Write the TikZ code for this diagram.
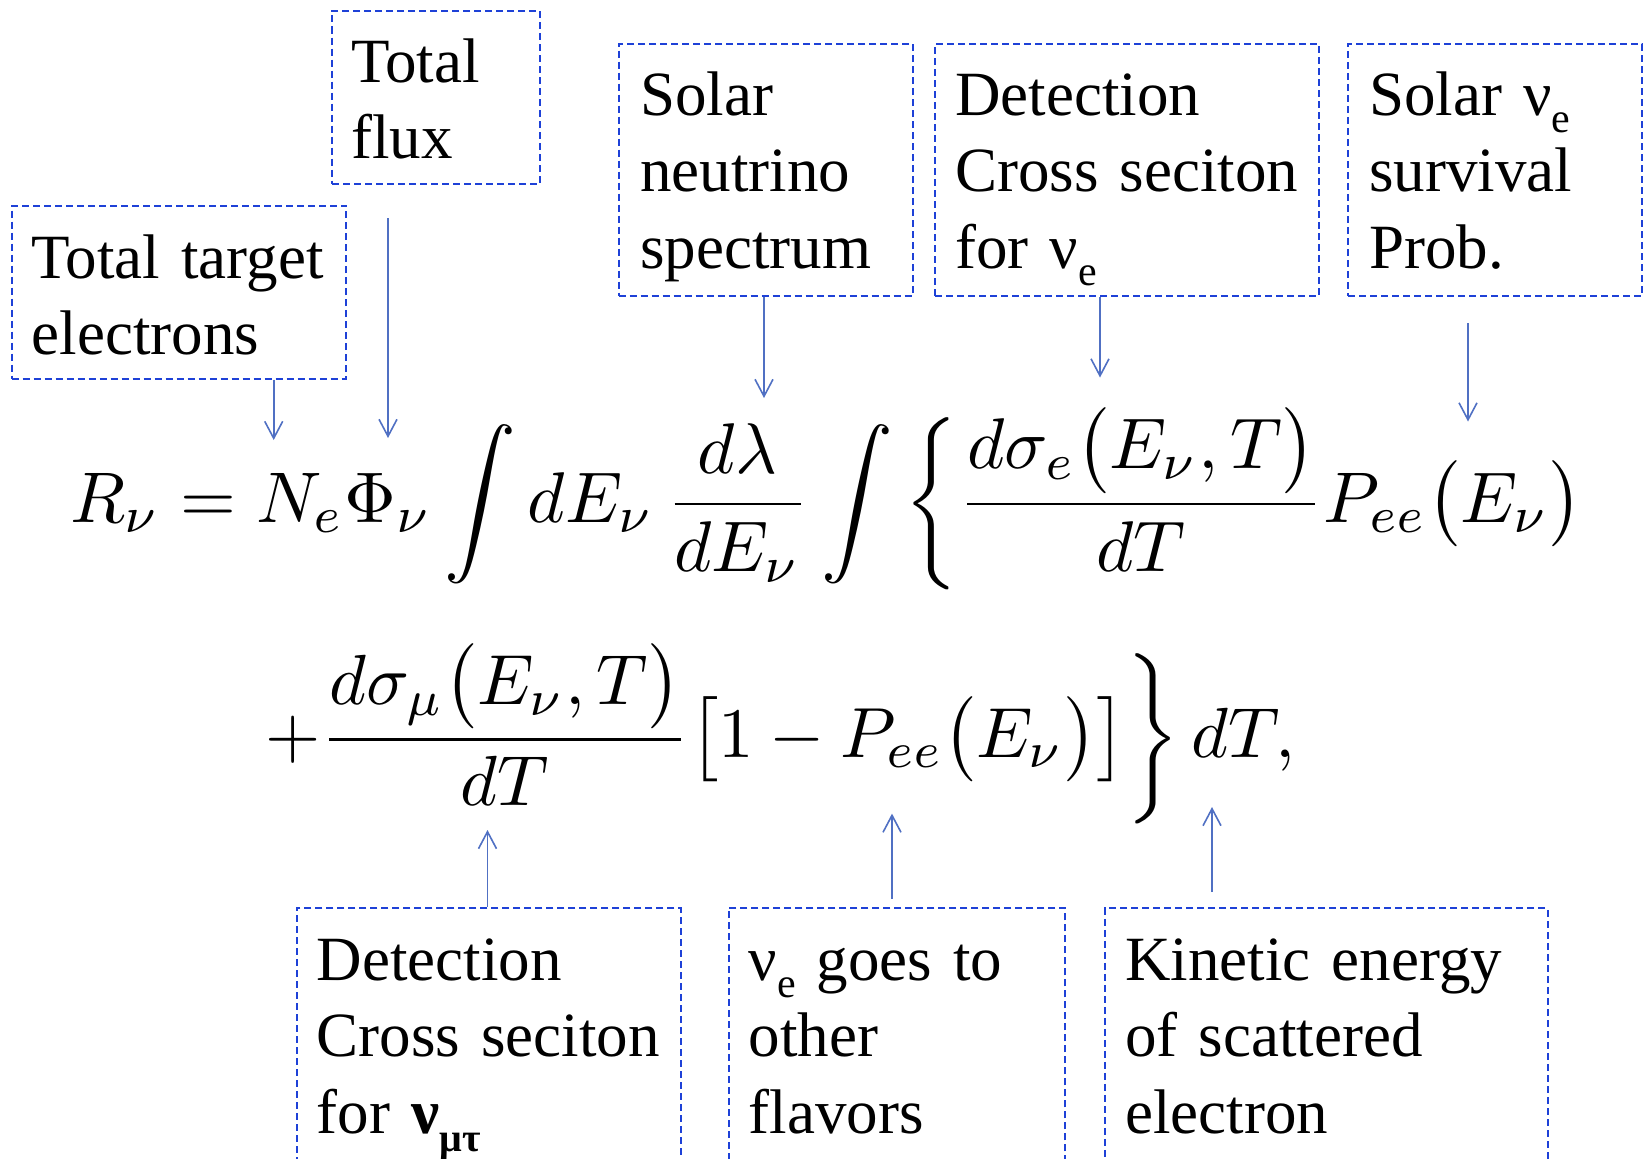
\documentclass[tikz,border=0pt]{standalone}
\usepackage{fontspec}
\setmainfont{Liberation Serif}
\usetikzlibrary{arrows.meta}
\definecolor{boxblue}{RGB}{30,65,215}
\definecolor{arrblue}{RGB}{80,112,195}
\newcommand{\mynue}{ν\raisebox{-0.27em}{\fontsize{42}{42}\selectfont e}}
\newcommand{\mynumt}{{\bfseries ν}\raisebox{-0.3em}{\fontsize{40}{40}\selectfont\bfseries μτ}}
\delimiterfactor=850
\delimitershortfall=12pt
\tikzset{
 lbox/.style={draw=boxblue, line width=2pt, dash pattern=on 7pt off 4pt, inner sep=0pt, rectangle},
 ltext/.style={anchor=base west, inner sep=0pt, text width=440pt, align=left, font=\fontsize{63}{76.5}\selectfont},
 pointer/.style={draw=arrblue, line width=1.6pt, -{Straight Barb[length=17pt,width=18pt,line width=1.6pt]}},
 eqn/.style={anchor=base west, inner sep=0pt},
}
\begin{document}
\begin{tikzpicture}[x=1pt,y=-1pt]
\useasboundingbox (0,0) rectangle (1644,1159);
\clip (0,0) rectangle (1644,1159);
% boxes
\node[lbox, minimum width=334.5pt, minimum height=173pt] (b1) at (178.75,292) {};
\node[lbox, minimum width=208pt, minimum height=173pt] (b2) at (436,97) {};
\node[lbox, minimum width=294.4pt, minimum height=251.7pt] (b3) at (765.8,169.85) {};
\node[lbox, minimum width=384pt, minimum height=251.7pt] (b4) at (1127,169.85) {};
\node[lbox, minimum width=294pt, minimum height=251.7pt] (b5) at (1495,169.85) {};
\node[lbox, minimum width=383.8pt, minimum height=270pt] (b6) at (488.6,1043) {};
\node[lbox, minimum width=336.3pt, minimum height=270pt] (b7) at (896.85,1043) {};
\node[lbox, minimum width=442.6pt, minimum height=270pt] (b8) at (1326.3,1043) {};
% texts
\node[ltext] (t1) at (31.5,278) {Total target\\electrons};
\node[ltext] (t2) at (351,82) {Total\\flux};
\node[ltext] (t3) at (640,115) {Solar\\neutrino\\spectrum};
\node[ltext] (t4) at (955,115) {Detection\\Cross seciton\\for \mynue};
\node[ltext] (t5) at (1369,115) {Solar \mynue\\survival\\Prob.};
\node[ltext] (t6) at (316.6,980) {Detection\\Cross seciton\\for \mynumt};
\node[ltext] (t7) at (748.6,980) {\mynue{} goes to\\other\\flavors};
\node[ltext] (t8) at (1125,980) {Kinetic energy\\of scattered\\electron};
% equation
\node[eqn] (eq1) at (70,522) {\resizebox{1520pt}{!}{$\displaystyle R_\nu = N_e\Phi_\nu\int dE_\nu\,\frac{d\lambda}{dE_\nu}\int\left\{\frac{d\sigma_e\bigl(E_\nu,T\bigr)}{dT}P_{ee}\bigl(E_\nu\bigr)\right.$}};
\node[eqn] (eq2) at (257,757) {\resizebox{1038pt}{!}{$\displaystyle \left.+\frac{d\sigma_\mu\bigl(E_\nu,T\bigr)}{dT}\bigl[1-P_{ee}\bigl(E_\nu\bigr)\bigr]\right\}dT,$}};
% arrow ends
\coordinate (e1) at (273.7,440);
\coordinate (s2) at (388,218);
\coordinate (e2) at (388,438);
\coordinate (e3) at (764,398);
\coordinate (e4) at (1100,377.5);
\coordinate (s5) at (1468,323);
\coordinate (e5) at (1468,421.5);
\coordinate (e6) at (487.5,830);
\coordinate (s7) at (892,898.6);
\coordinate (e7) at (892,813.6);
\coordinate (s8) at (1212,892);
\coordinate (e8) at (1212,807);
\draw[pointer] (b1.south -| e1) -- (e1);
\draw[pointer] (s2) -- (e2);
\draw[pointer] (b3.south -| e3) -- (e3);
\draw[pointer] (b4.south -| e4) -- (e4);
\draw[pointer] (s5) -- (e5);
\draw[pointer] (b6.north -| e6) -- (e6);
\draw[pointer] (s7) -- (e7);
\draw[pointer] (s8) -- (e8);
\end{tikzpicture}
\end{document}
